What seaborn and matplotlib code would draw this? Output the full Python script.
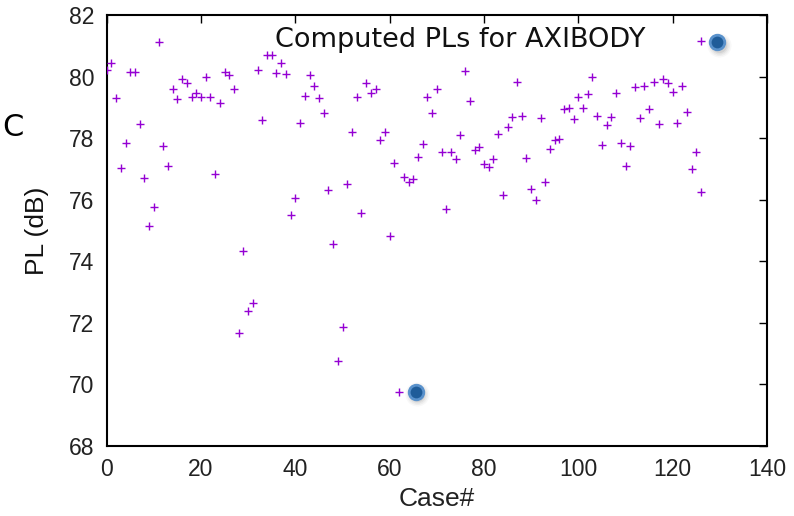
import matplotlib
matplotlib.use("Agg")
import matplotlib.pyplot as plt
import seaborn as sns
import pandas as pd

# ---- data ----
case_no = [0, 1, 2, 3, 4, 5, 6, 7, 8, 9, 10, 11, 12, 13, 14, 15, 16, 17, 18, 19,
           20, 21, 22, 23, 24, 25, 26, 27, 28, 29, 30, 31, 32, 33, 34, 35, 36, 37, 38, 39,
           40, 41, 42, 43, 44, 45, 46, 47, 48, 49, 50, 51, 52, 53, 54, 55, 56, 57, 58, 59,
           60, 61, 62, 63, 64, 65, 66, 67, 68, 69, 70, 71, 72, 73, 74, 75, 76, 77, 78, 79,
           80, 81, 82, 83, 84, 85, 86, 87, 88, 89, 90, 91, 92, 93, 94, 95, 96, 97, 98, 99,
           100, 101, 102, 103, 104, 105, 106, 107, 108, 109, 110, 111, 112, 113, 114, 115,
           116, 117, 118, 119, 120, 121, 122, 123, 124, 125, 126, 126]
pl_db = [80.21, 80.45, 79.30, 77.02, 77.85, 80.16, 80.16, 78.45, 76.70, 75.13,
         75.76, 81.13, 77.75, 77.08, 79.59, 79.26, 79.91, 79.78, 79.35, 79.46,
         79.35, 79.98, 79.35, 76.84, 79.13, 80.15, 80.06, 79.59, 71.68, 74.35,
         72.40, 72.64, 80.21, 78.59, 80.70, 80.70, 80.10, 80.45, 80.07, 75.51,
         76.07, 78.50, 79.37, 80.05, 79.69, 79.30, 78.81, 76.30, 74.56, 70.77,
         71.85, 76.51, 78.21, 79.33, 75.56, 79.78, 79.46, 79.59, 77.94, 78.21,
         74.83, 77.18, 69.77, 76.73, 76.57, 76.68, 77.40, 77.81, 79.33, 78.83,
         79.59, 77.54, 75.70, 77.54, 77.31, 78.10, 80.18, 79.22, 77.62, 77.72,
         77.16, 77.07, 77.31, 78.14, 76.16, 78.35, 78.70, 79.81, 78.73, 77.35,
         76.35, 75.99, 78.67, 76.56, 77.64, 77.94, 77.97, 78.94, 78.97, 78.62,
         79.35, 78.99, 79.43, 79.98, 78.73, 77.78, 78.43, 78.70, 79.46, 77.83,
         77.11, 77.76, 79.65, 78.67, 79.69, 78.94, 79.81, 78.45, 79.91, 79.78,
         79.51, 78.50, 79.69, 78.86, 76.99, 77.54, 76.26, 81.17]

# highlighted extreme markers (blue dots)
hl_case = [65.5, 129.5]
hl_pl = [69.77, 81.11]

x_ticks = [0, 20, 40, 60, 80, 100, 120, 140]
y_ticks = [68, 70, 72, 74, 76, 78, 80, 82]

title_text = "Computed PLs for AXIBODY"
x_label = "Case#"
y_label = "PL (dB)"
panel_label = "C"

# ---- plotting ----
sns.set_style("white")
plt.rcParams["font.family"] = ["Liberation Sans", "DejaVu Sans"]

df = pd.DataFrame({"case": case_no, "pl": pl_db})
df_hl = pd.DataFrame({"case": hl_case, "pl": hl_pl})

fig = plt.figure(figsize=(7.94, 5.16), dpi=100)
ax = fig.add_axes([106.7 / 794, 1 - 446 / 516, (767 - 106.7) / 794, (446 - 15) / 516])

sns.scatterplot(data=df, x="case", y="pl", marker="+", color="#9400D3",
                s=40, linewidth=1.0, ax=ax, zorder=3)

# soft drop shadow under highlighted dots
for sz, a in [(300, 0.04), (230, 0.06), (170, 0.08), (120, 0.11)]:
    ax.scatter(df_hl["case"] + 0.3, df_hl["pl"] - 0.09, s=sz, color="#555555",
               alpha=a, linewidths=0, zorder=4)
sns.scatterplot(data=df_hl, x="case", y="pl", s=110, color="#1f5c99",
                edgecolor="#5a92cc", linewidth=2.0, ax=ax, zorder=5)

ax.set_xlim(0, 140)
ax.set_ylim(68, 82)
ax.set_xticks(x_ticks)
ax.set_yticks(y_ticks)
ax.set_xticklabels([str(t) for t in x_ticks])
ax.set_yticklabels([str(t) for t in y_ticks])

for sp in ax.spines.values():
    sp.set_visible(True)
    sp.set_color("black")
    sp.set_linewidth(1.5)

ax.tick_params(axis="both", which="major", direction="in", length=6, width=1.0,
               colors="black", labelsize=16.5, top=True, right=True,
               labeltop=False, labelright=False, pad=9)
for lbl in ax.get_xticklabels() + ax.get_yticklabels():
    lbl.set_color("#222222")

ax.set_xlabel(x_label, fontsize=19, color="#222222", labelpad=4)
ax.set_ylabel(y_label, fontsize=19, color="#111111", labelpad=14)

ax.text(0.535, 0.942, title_text, transform=ax.transAxes, ha="center", va="center",
        fontsize=19.5, family=["DejaVu Sans"], color="#111111")

fig.text(0.003, 1 - 128 / 516, panel_label, ha="left", va="center", fontsize=22,
         family=["DejaVu Sans"], color="black")

fig.savefig("out.png", dpi=100)
